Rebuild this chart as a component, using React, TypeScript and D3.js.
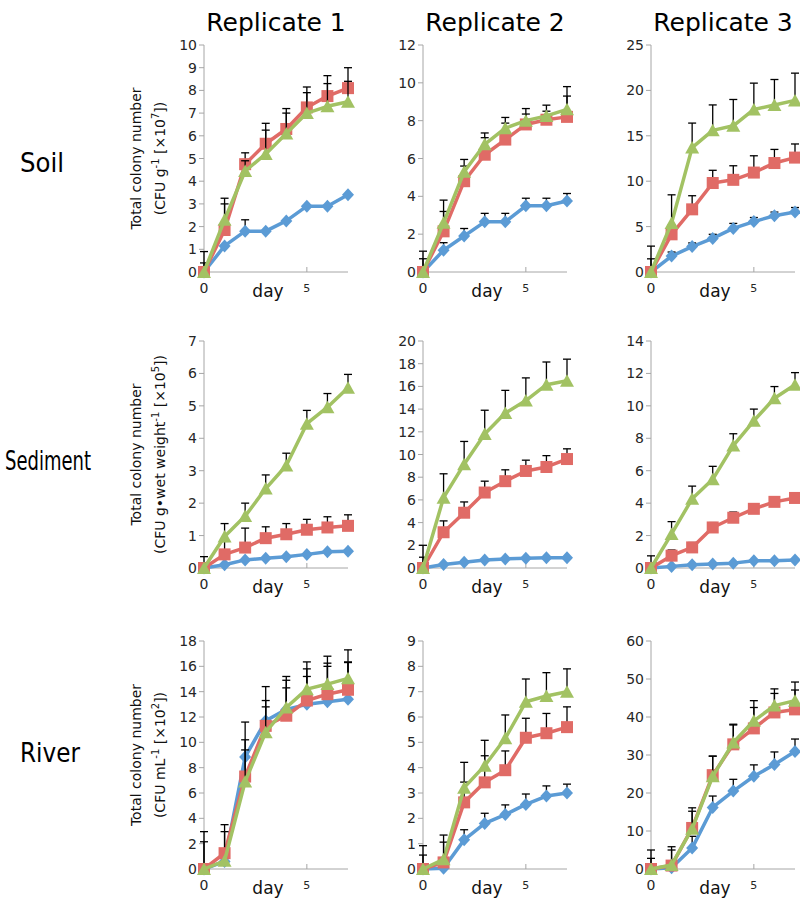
import React from "react";
import * as d3 from "d3";

const days = [0, 1, 2, 3, 4, 5, 6, 7];
const replicateLabels = ["Replicate 1", "Replicate 2", "Replicate 3"];
const sampleLabels = ["Soil", "Sediment", "River"];
const seriesColors = ["#5b9bd5", "#e06b66", "#a2c263"];

// Y-axis maxima and steps per panel (row-major)
const yMax = [10, 12, 25, 7, 20, 14, 18, 9, 60];
const yStep = [1, 2, 5, 1, 2, 2, 2, 1, 10];

// Series order in each array: blue (diamond), red (square), green (triangle)
const soil1Mean = [
  [0, 1.15, 1.8, 1.8, 2.25, 2.9, 2.9, 3.4],
  [0, 1.85, 4.75, 5.65, 6.3, 7.25, 7.75, 8.1],
  [0, 2.3, 4.45, 5.2, 6.1, 7.0, 7.3, 7.5],
];
const soil1Err = [
  [0.9, 0, 0.5, 0, 0, 0, 0, 0],
  [0.4, 1.15, 0.5, 0.9, 0.9, 0.9, 0.9, 0.9],
  [0, 0.95, 0.45, 1.05, 0.9, 0.9, 1.0, 0.9],
];
const soil2Mean = [
  [0, 1.15, 1.9, 2.65, 2.65, 3.5, 3.5, 3.75],
  [0, 2.15, 4.8, 6.2, 7.0, 7.8, 8.05, 8.2],
  [0, 2.6, 5.3, 6.75, 7.6, 8.0, 8.25, 8.6],
];
const soil2Err = [
  [1.1, 0.4, 0.4, 0.45, 0.45, 0.4, 0.4, 0.4],
  [0.7, 1.05, 0.8, 0.9, 0.87, 0.55, 0.45, 1.1],
  [0, 1.2, 0.65, 0.6, 0.57, 0.64, 0.57, 1.2],
];
const soil3Mean = [
  [0, 1.75, 2.8, 3.7, 4.8, 5.55, 6.2, 6.6],
  [0, 4.15, 6.9, 9.8, 10.15, 10.95, 12.0, 12.6],
  [0, 5.4, 13.7, 15.6, 16.1, 17.9, 18.4, 18.9],
];
const soil3Err = [
  [1.45, 0.45, 0.4, 0.45, 0.55, 0.45, 0.4, 0.5],
  [2.85, 1.0, 1.5, 1.4, 1.55, 1.85, 1.5, 1.5],
  [0, 3.1, 2.7, 2.8, 2.9, 2.9, 2.8, 3.0],
];
const sed1Mean = [
  [0, 0.1, 0.25, 0.3, 0.35, 0.42, 0.5, 0.52],
  [0, 0.42, 0.63, 0.92, 1.04, 1.18, 1.25, 1.3],
  [0, 0.97, 1.6, 2.45, 3.16, 4.45, 4.96, 5.56],
];
const sed1Err = [
  [0.35, 0, 0, 0, 0, 0, 0, 0],
  [0, 0.4, 0.6, 0.35, 0.33, 0.32, 0.33, 0.34],
  [0, 0.4, 0.4, 0.42, 0.38, 0.41, 0.42, 0.41],
];
const sed2Mean = [
  [0, 0.3, 0.5, 0.7, 0.8, 0.85, 0.9, 0.9],
  [0, 3.15, 4.87, 6.65, 7.65, 8.55, 8.9, 9.6],
  [0, 6.2, 9.15, 11.8, 13.65, 14.75, 16.15, 16.5],
];
const sed2Err = [
  [0.95, 0, 0, 0, 0, 0, 0, 0],
  [2.0, 1.0, 0.95, 1.0, 1.0, 0.95, 1.0, 0.9],
  [0, 2.1, 2.0, 2.1, 2.0, 2.0, 2.0, 1.9],
];
const sed3Mean = [
  [0, 0.1, 0.2, 0.25, 0.3, 0.45, 0.45, 0.5],
  [0, 0.76, 1.27, 2.5, 3.1, 3.65, 4.08, 4.32],
  [0, 2.1, 4.27, 5.47, 7.55, 9.08, 10.47, 11.3],
];
const sed3Err = [
  [0.75, 0, 0, 0, 0, 0, 0, 0],
  [0, 0.35, 0.3, 0.3, 0.35, 0.3, 0.3, 0.3],
  [0, 0.76, 0.78, 0.8, 0.73, 0.72, 0.72, 0.75],
];
const river1Mean = [
  [0, 0.6, 8.85, 11.7, 12.6, 13.0, 13.2, 13.4],
  [0, 1.25, 7.3, 11.3, 12.1, 13.3, 13.8, 14.15],
  [0, 0.65, 6.9, 10.8, 12.75, 14.2, 14.6, 15.05],
];
const river1Err = [
  [2.95, 2.9, 2.75, 2.7, 2.6, 3.35, 3.05, 2.9],
  [2.15, 1.7, 2.9, 2.0, 2.8, 2.5, 3.0, 2.2],
  [0, 0, 2.5, 2.0, 1.55, 1.0, 1.4, 2.25],
];
const river2Mean = [
  [0, 0.03, 1.15, 1.8, 2.15, 2.55, 2.88, 3.0],
  [0, 0.26, 2.63, 3.42, 3.9, 5.18, 5.36, 5.6],
  [0, 0.38, 3.21, 4.08, 5.16, 6.6, 6.83, 7.0],
];
const river2Err = [
  [0.55, 0, 0.4, 0.4, 0.38, 0.41, 0.4, 0.35],
  [0.92, 0.8, 0.8, 1.05, 0.76, 0.77, 0.78, 0.8],
  [0, 0.96, 1.0, 1.0, 0.92, 0.9, 0.92, 0.9],
];
const river3Mean = [
  [0, 0.35, 5.5, 16.2, 20.5, 24.4, 27.5, 30.9],
  [0, 0.9, 10.8, 24.7, 32.8, 37.0, 41.2, 42.0],
  [0, 1.06, 10.6, 24.4, 33.3, 39.0, 43.0, 44.3],
];
const river3Err = [
  [2.8, 0, 3.1, 3.0, 3.1, 3.0, 3.3, 3.3],
  [5.0, 4.1, 4.4, 5.0, 5.1, 5.5, 5.0, 5.1],
  [0, 4.8, 5.5, 5.3, 4.8, 5.3, 4.4, 4.9],
];

const panelMeans = [soil1Mean, soil2Mean, soil3Mean, sed1Mean, sed2Mean, sed3Mean, river1Mean, river2Mean, river3Mean];
const panelErrs = [soil1Err, soil2Err, soil3Err, sed1Err, sed2Err, sed3Err, river1Err, river2Err, river3Err];

// Layout
const colX = [204, 423, 651];
const plotW = 144;
const rowTop = [45, 341, 641];
const rowBottom = [272, 568, 869];
const FONT = "DejaVu Sans, Verdana, sans-serif";

function Marker({ kind, x, y, color }: { kind: number; x: number; y: number; color: string }) {
  if (kind === 0) {
    const w = 6, h = 6.5;
    return <path d={`M${x},${y - h}L${x + w},${y}L${x},${y + h}L${x - w},${y}Z`} fill={color} />;
  }
  if (kind === 1) {
    const s = 6;
    return <rect x={x - s} y={y - s} width={s * 2} height={s * 2} fill={color} />;
  }
  const w = 7, h = 6.5;
  return <path d={`M${x},${y - h}L${x + w},${y + h - 0.5}L${x - w},${y + h - 0.5}Z`} fill={color} />;
}

function Panel({ idx }: { idx: number }) {
  const row = Math.floor(idx / 3);
  const col = idx % 3;
  const x0 = colX[col];
  const top = rowTop[row];
  const bottom = rowBottom[row];
  const xScale = d3.scaleLinear().domain([0, 7]).range([x0, x0 + plotW]);
  const yScale = d3.scaleLinear().domain([0, yMax[idx]]).range([bottom, top]);
  const ticks = d3.range(0, yMax[idx] + yStep[idx] / 2, yStep[idx]);
  const means = panelMeans[idx];
  const errs = panelErrs[idx];
  const line = d3
    .line<number>()
    .x((_, i) => xScale(days[i]))
    .y((v) => yScale(v));
  const axisColor = "#a6a6a6";
  return (
    <g>
      {/* y axis */}
      <line x1={x0} x2={x0} y1={top} y2={bottom} stroke={axisColor} strokeWidth={1} />
      {ticks.map((t) => (
        <g key={t}>
          <line x1={x0 - 5} x2={x0} y1={yScale(t)} y2={yScale(t)} stroke={axisColor} strokeWidth={1} />
          <text x={x0 - 7} y={yScale(t)} dy="0.36em" textAnchor="end" fontSize={14} fill="#262626" fontFamily={FONT}>
            {t}
          </text>
        </g>
      ))}
      {/* x axis */}
      <line x1={x0} x2={xScale(7)} y1={bottom} y2={bottom} stroke={axisColor} strokeWidth={1} />
      <line x1={xScale(5)} x2={xScale(5)} y1={bottom - 5} y2={bottom} stroke={axisColor} strokeWidth={1} />
      <text x={xScale(0)} y={bottom + 21} textAnchor="middle" fontSize={14} fill="#262626" fontFamily={FONT}>0</text>
      <text x={xScale(5)} y={bottom + 20} textAnchor="middle" fontSize={11} fill="#262626" fontFamily={FONT}>5</text>
      <text x={x0 + 64} y={bottom + 25} textAnchor="middle" fontSize={17} fill="#111" fontFamily={FONT}>day</text>
      {/* series */}
      {means.map((vals, s) => (
        <g key={s}>
          <path d={line(vals) || ""} fill="none" stroke={seriesColors[s]} strokeWidth={3.5} strokeLinejoin="round" />
          {vals.map((v, i) =>
            errs[s][i] > 0 ? (
              <g key={"e" + i}>
                <line x1={xScale(days[i])} x2={xScale(days[i])} y1={yScale(v)} y2={yScale(v + errs[s][i])} stroke="#000" strokeWidth={1.3} />
                <line x1={xScale(days[i]) - 4} x2={xScale(days[i]) + 4} y1={yScale(v + errs[s][i])} y2={yScale(v + errs[s][i])} stroke="#000" strokeWidth={1.3} />
              </g>
            ) : null
          )}
          {vals.map((v, i) => (
            <Marker key={"m" + i} kind={s} x={xScale(days[i])} y={yScale(v)} color={seriesColors[s]} />
          ))}
        </g>
      ))}
    </g>
  );
}

function YLabel({ row }: { row: number }) {
  const cy = (rowTop[row] + rowBottom[row]) / 2;
  const line2 =
    row === 0 ? (
      <>
        (CFU g<tspan fontSize={10} dy={-6}>-1</tspan>
        <tspan dy={6}> [×10</tspan>
        <tspan fontSize={10} dy={-6}>7</tspan>
        <tspan dy={6}>])</tspan>
      </>
    ) : row === 1 ? (
      <>
        (CFU g•wet weight<tspan fontSize={10} dy={-6}>-1</tspan>
        <tspan dy={6}> [×10</tspan>
        <tspan fontSize={10} dy={-6}>5</tspan>
        <tspan dy={6}>])</tspan>
      </>
    ) : (
      <>
        (CFU mL<tspan fontSize={10} dy={-6}>-1</tspan>
        <tspan dy={6}> [×10</tspan>
        <tspan fontSize={10} dy={-6}>2</tspan>
        <tspan dy={6}>])</tspan>
      </>
    );
  return (
    <g>
      <text transform={`translate(140.5,${cy}) rotate(-90)`} textAnchor="middle" fontSize={14} fill="#111" fontFamily={FONT}>
        Total colony number
      </text>
      <text transform={`translate(165,${cy}) rotate(-90)`} textAnchor="middle" fontSize={14} fill="#111" fontFamily={FONT}>
        {line2}
      </text>
    </g>
  );
}

const rowLabelPos = [
  { x: 20, y: 172, w: 44 },
  { x: 5, y: 470, w: 86 },
  { x: 20, y: 762, w: 60 },
];

export default function App() {
  return (
    <svg
      width={800}
      height={898}
      viewBox="0 0 800 898"
      style={{ position: "absolute", left: 0, top: 0, background: "#fff" }}
    >
      <rect width={800} height={898} fill="#fff" />
      {replicateLabels.map((t, c) => (
        <text key={t} x={colX[c] + plotW / 2} y={31} textAnchor="middle" fontSize={25} fill="#000" fontFamily={FONT}>
          {t}
        </text>
      ))}
      {sampleLabels.map((t, r) => (
        <text
          key={t}
          x={rowLabelPos[r].x}
          y={rowLabelPos[r].y}
          fontSize={26}
          fill="#000"
          fontFamily={FONT}
          textLength={rowLabelPos[r].w}
          lengthAdjust="spacingAndGlyphs"
        >
          {t}
        </text>
      ))}
      {[0, 1, 2].map((r) => (
        <YLabel key={r} row={r} />
      ))}
      {d3.range(9).map((i) => (
        <Panel key={i} idx={i} />
      ))}
    </svg>
  );
}
